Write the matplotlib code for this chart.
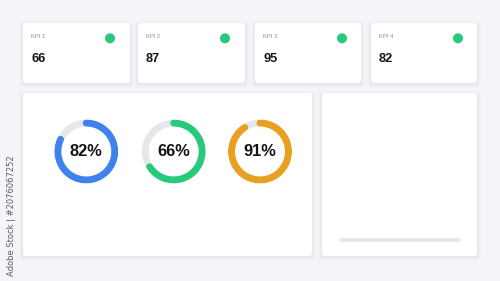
import matplotlib
matplotlib.use("Agg")
import matplotlib.pyplot as plt
import numpy as np
from matplotlib.patches import FancyBboxPatch, Circle

plt.rcParams['font.family'] = ['Liberation Sans', 'DejaVu Sans']

# ---- data ----
kpi_labels = ["KPI 1", "KPI 2", "KPI 3", "KPI 4"]
kpi_values = [66, 87, 95, 82]
donut_values = [82, 66, 91]
donut_colors = ["#3f82ec", "#27c97b", "#e8a01e"]
progress_value = 1
watermark = "Adobe Stock | #2076067252"

W, H = 500, 281
DPI = 100
fig = plt.figure(figsize=(W / DPI, H / DPI), dpi=DPI)
fig.patch.set_facecolor("#f3f5f8")

bg = fig.add_axes([0, 0, 1, 1])
bg.set_xlim(0, W)
bg.set_ylim(H, 0)
bg.axis("off")

def card(x0, y0, x1, y1):
    for i, a in enumerate([0.03, 0.025, 0.02, 0.015]):
        s = FancyBboxPatch((x0 - 1 - i, y0 - i + 1.5), (x1 - x0) + 2 + 2 * i, (y1 - y0) + 2 * i,
                           boxstyle="round,pad=0,rounding_size=4", fc="#5a6a85", ec="none", alpha=a, zorder=1)
        bg.add_patch(s)
    bg.add_patch(FancyBboxPatch((x0, y0), x1 - x0, y1 - y0,
                                boxstyle="round,pad=0,rounding_size=3", fc="white", ec="none", zorder=2))

card_x = [(23, 130), (138, 245), (255, 361), (371, 477)]
for (x0, x1), lab, val in zip(card_x, kpi_labels, kpi_values):
    card(x0, 23, x1, 83)
    bg.text(x0 + 8, 36, lab, fontsize=4.2, color="#8a8f98", va="center", ha="left", zorder=3)
    bg.text(x0 + 8, 58.5, str(val), fontsize=9.2, fontweight="bold", color="#141414",
            va="center", ha="left", zorder=3)
    bg.add_patch(Circle((x0 + 87, 38.3), 5, fc="#27c97b", ec="none", zorder=3))

card(23, 93, 312, 256)
card(322, 93, 477, 256)

# vertical watermark id
bg.text(11.5, 216, watermark, rotation=90, fontsize=6, color="#5a5f66",
        va="center", ha="center", family=["DejaVu Sans"], zorder=3)

# ---- donuts ----
centers = [86.3, 173.7, 260.0]
cy = 151.5
R = 32
ring = 7.0
for cx, v, col in zip(centers, donut_values, donut_colors):
    ax = fig.add_axes([(cx - R) / W, 1 - (cy + R) / H, 2 * R / W, 2 * R / H], projection="polar")
    ax.set_theta_zero_location("N")
    ax.set_theta_direction(-1)
    ax.set_ylim(0, R)
    ax.axis("off")
    ax.patch.set_alpha(0)
    r = R - ring / 2
    th_full = np.linspace(0, 2 * np.pi, 400)
    lw = ring * 72 / DPI
    ax.plot(th_full, np.full_like(th_full, r), color="#e6e7eb", lw=lw, solid_capstyle="butt")
    th = np.linspace(0, 2 * np.pi * v / 100, 400)
    ax.plot(th, np.full_like(th, r), color=col, lw=lw, solid_capstyle="round")
    ax.text(0, 0, f"{v}%", fontsize=11.8, fontweight="bold", color="#141414",
            ha="center", va="center")

# ---- progress bar ----
bx0, bx1, by = 337, 462, 239.5
bh = 5
pax = fig.add_axes([(bx0 + bh / 2) / W, 1 - (by + bh / 2) / H, (bx1 - bx0 - bh) / W, bh / H])
pax.set_xlim(0, 100)
pax.set_ylim(-1, 1)
pax.axis("off")
pax.patch.set_alpha(0)
blw = bh * 72 / DPI
pax.plot([0, 100], [0, 0], color="#e6e7eb", lw=blw, solid_capstyle="round")
pax.plot([0, progress_value * 0.5], [0.3, 0.3], color="#3a4f9a", lw=blw * 0.45, solid_capstyle="round")

fig.savefig("out.png", dpi=DPI, facecolor=fig.get_facecolor())
